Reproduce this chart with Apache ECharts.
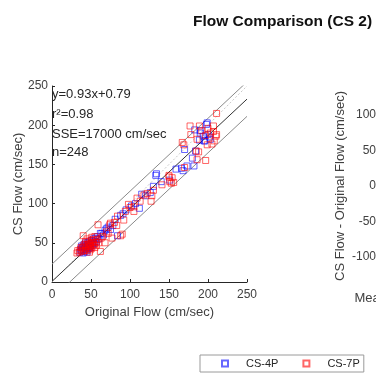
<!DOCTYPE html>
<html>
<head>
<meta charset="utf-8">
<script src="https://cdn.jsdelivr.net/npm/echarts@6/dist/echarts.min.js"></script>
<style>
html,body{margin:0;padding:0;background:#fff;}
#c{width:376px;height:377px;}
</style>
</head>
<body>
<div id="c"></div>
<script>
// ---- data ----
const titleText = 'Flow Comparison (CS 2)';
const xTicks = [0, 50, 100, 150, 200, 250];
const yTicks = [0, 50, 100, 150, 200, 250];
const diffTicks = [-100, -50, 0, 50, 100];
const statsLines = ['y=0.93x+0.79', 'r\u00B2=0.98', 'SSE=17000 cm/sec', 'n=248'];
const fitSlope = 0.93;
const fitIntercept = 0.79;
const bandHalfWidth = 22;
const seriesNames = ['CS-4P', 'CS-7P'];

const cs4p = [
  [36,38],[37,42],[38,46],[38,40],[39,44],[40,37],[40,41],[41,45],[41,48],[42,39],
  [42,43],[43,46],[43,50],[44,41],[44,44],[45,47],[45,38],[46,42],[46,50],[47,45],
  [47,48],[48,43],[48,52],[49,46],[50,49],[50,44],[51,53],[52,47],[52,50],[53,55],
  [54,49],[55,52],[56,56],[57,51],[58,58],[60,55],[62,62],[64,62],[66,60],[68,66],
  [70,68],[72,70],[75,67],[78,72],
  [81,80],[84,59],[88,85],[91,87],[95,92],[102,97],[107,100],[112,94],[115,112],[120,110],
  [126,114],[130,122],[133,136],[134,138],[140,128],[151,130],[159,144],[166,145],[168,142],[173,148],
  [170,169],[180,158],[182,148],[184,167],[189,181],[190,193],[194,186],[195,180],[196,180],[198,201],
  [199,203],[200,188],[203,182],[190,190],[183,194],[202,185]
];
const cs7p = [
  [32,37],[33,40],[35,38],[36,41],[37,44],[38,39],[39,43],[40,46],[40,59],[41,40],
  [42,48],[43,42],[43,52],[44,45],[45,40],[45,55],[46,47],[47,43],[47,51],[48,38],
  [48,49],[49,41],[49,45],[50,53],[50,47],[51,43],[51,57],[52,50],[53,46],[53,54],
  [54,48],[55,44],[55,58],[56,51],[57,47],[58,54],[59,73],[60,50],[62,39],[63,56],
  [65,58],[68,50],[70,64],[72,62],[74,73],[75,75],[77,56],[80,76],[83,72],[84,84],
  [88,59],[90,61],[92,79],[94,90],[98,99],[100,95],[105,96],[105,90],[109,107],[113,103],
  [118,111],[122,113],[127,103],[128,110],[130,117],[141,124],[150,134],[151,128],[153,126],[154,133],
  [156,127],[150,136],[167,178],[169,175],[170,146],[177,199],[178,188],[185,167],[186,156],[188,166],
  [189,199],[192,193],[197,155],[199,175],[200,196],[203,190],[205,176],[207,199],[207,192],[208,180],
  [211,188],[211,215],[210,186],[197,187],[186,182]
];

// reference lines built from fit values
const xMin = xTicks[0], xMax = xTicks[xTicks.length - 1];
const fitLine = [[xMin, fitIntercept + fitSlope * xMin], [xMax, fitIntercept + fitSlope * xMax]];
const upperLine = fitLine.map(p => [p[0], p[1] + bandHalfWidth]);
const lowerLine = fitLine.map(p => [p[0], p[1] - bandHalfWidth]);
const identityLine = [[xMin, xMin], [xMax, xMax]];

const axisColor = '#262626';
const font = 'Liberation Sans, Arial, sans-serif';

const chart = echarts.init(document.getElementById('c'), null, {renderer: 'canvas'});
const statsGraphics = statsLines.map((t, i) => ({
  type: 'text', left: 52, top: [88, 108, 128, 146][i],
  style: {text: t, fontSize: 13, fontFamily: font, fill: '#262626'}
}));

chart.setOption({
  animation: false,
  backgroundColor: '#fff',
  title: {
    text: titleText, left: 188, top: 9,
    textStyle: {fontSize: 15.5, fontWeight: 'bold', fontFamily: font, color: '#111'}
  },
  legend: {
    data: seriesNames, left: 200, top: 355,
    orient: 'horizontal',
    itemWidth: 6, itemHeight: 6, itemGap: 24,
    padding: [3, 4, 3, 21],
    borderColor: '#9a9a9a', borderWidth: 1,
    textStyle: {fontSize: 11, fontFamily: font, color: '#262626', padding: [0, 0, 0, 13]}
  },
  grid: [
    {left: 52, right: 129, top: 86, bottom: 95, containLabel: false, outerBoundsMode: 'none'},
    {left: 380, width: 66, top: 115, bottom: 120, containLabel: false, outerBoundsMode: 'none'}
  ],
  xAxis: [
    {
      gridIndex: 0, type: 'value', min: xMin, max: xMax, interval: 50,
      name: 'Original Flow (cm/sec)', nameLocation: 'middle', nameGap: 22,
      nameTextStyle: {fontSize: 13, fontFamily: font, color: '#404040'},
      axisLine: {show: true, lineStyle: {color: axisColor, width: 1}},
      axisTick: {show: true, inside: true, length: 3, lineStyle: {color: axisColor}},
      axisLabel: {fontSize: 12, fontFamily: font, color: '#404040', margin: 7},
      splitLine: {show: false}
    },
    {
      gridIndex: 1, type: 'value', min: 0, max: 250,
      name: 'Mean Flow (cm/sec)', nameLocation: 'middle', nameGap: 35,
      nameTextStyle: {fontSize: 13, fontFamily: font, color: '#404040'},
      axisLine: {show: false}, axisTick: {show: false}, axisLabel: {show: false},
      splitLine: {show: false}
    }
  ],
  yAxis: [
    {
      gridIndex: 0, type: 'value', min: yTicks[0], max: yTicks[yTicks.length - 1], interval: 50,
      name: 'CS Flow (cm/sec)', nameLocation: 'middle', nameGap: 27, nameRotate: 90,
      nameMoveOverlap: false,
      nameTextStyle: {fontSize: 13, fontFamily: font, color: '#404040'},
      axisLine: {show: true, lineStyle: {color: axisColor, width: 1}},
      axisTick: {show: true, inside: true, length: 3, lineStyle: {color: axisColor}},
      axisLabel: {fontSize: 12, fontFamily: font, color: '#404040', margin: 4},
      splitLine: {show: false}
    },
    {
      gridIndex: 1, type: 'value', min: diffTicks[0], max: diffTicks[diffTicks.length - 1], interval: 50,
      name: 'CS Flow - Original Flow (cm/sec)', nameLocation: 'middle', nameGap: 33, nameRotate: 90,
      nameTextStyle: {fontSize: 13, fontFamily: font, color: '#404040'},
      axisLine: {show: true, lineStyle: {color: axisColor}},
      axisTick: {show: true, inside: true, length: 3},
      axisLabel: {fontSize: 12, fontFamily: font, color: '#404040', margin: 4},
      splitLine: {show: false}
    }
  ],
  graphic: statsGraphics,
  series: [
    {
      name: 'identity', type: 'line', xAxisIndex: 0, yAxisIndex: 0, data: identityLine,
      symbol: 'none', clip: true, silent: true,
      lineStyle: {color: '#c8c8c8', width: 1, type: [2, 2]}, z: 1
    },
    {
      name: 'upper', type: 'line', xAxisIndex: 0, yAxisIndex: 0, data: upperLine,
      symbol: 'none', clip: true, silent: true,
      lineStyle: {color: '#8a8a8a', width: 1}, z: 1
    },
    {
      name: 'lower', type: 'line', xAxisIndex: 0, yAxisIndex: 0, data: lowerLine,
      symbol: 'none', clip: true, silent: true,
      lineStyle: {color: '#8a8a8a', width: 1}, z: 1
    },
    {
      name: 'fit', type: 'line', xAxisIndex: 0, yAxisIndex: 0, data: fitLine,
      symbol: 'none', clip: true, silent: true,
      lineStyle: {color: '#333333', width: 1}, z: 1
    },
    {
      name: seriesNames[0], type: 'scatter', xAxisIndex: 0, yAxisIndex: 0, data: cs4p,
      symbol: 'rect', symbolSize: 6,
      itemStyle: {color: 'rgba(0,0,0,0)', borderColor: 'rgba(0,0,255,0.75)', borderWidth: 1}, z: 3
    },
    {
      name: seriesNames[1], type: 'scatter', xAxisIndex: 0, yAxisIndex: 0, data: cs7p,
      symbol: 'rect', symbolSize: 6,
      itemStyle: {color: 'rgba(0,0,0,0)', borderColor: 'rgba(255,0,0,0.75)', borderWidth: 1}, z: 4
    }
  ]
});
</script>
</body>
</html>
